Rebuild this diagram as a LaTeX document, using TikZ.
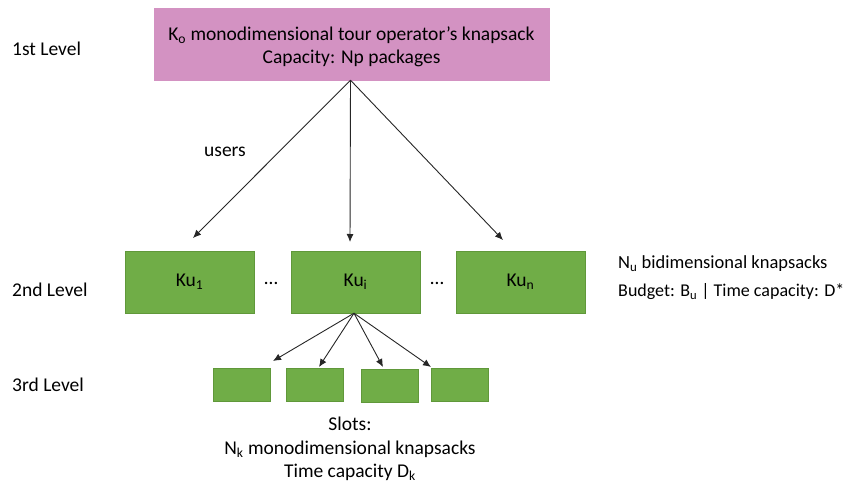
\documentclass[tikz,border=0pt]{standalone}
\usepackage{fontspec}
\setmainfont{Carlito}
\usetikzlibrary{positioning, arrows.meta}
\definecolor{opPink}{RGB}{211,146,194}
\definecolor{kuGreen}{RGB}{112,173,71}
\definecolor{kuLine}{RGB}{96,152,58}
\tikzset{
    txt/.style={inner sep=0pt, font=\fontsize{19.5}{23.5}\selectfont},
    sidetxt/.style={inner sep=0pt, anchor=west, font=\fontsize{18.5}{22}\selectfont},
    levellbl/.style={txt, anchor=base west},
    opbox/.style={draw=opPink, fill=opPink, minimum width=395pt, minimum height=72pt},
    kubox/.style={draw=kuLine, fill=kuGreen, minimum width=129pt, minimum height=62pt, txt},
    slotbox/.style={draw=kuLine, fill=kuGreen, minimum width=57pt, minimum height=33pt},
    arr/.style={-{Latex[length=8pt,width=7pt]}, line width=0.9pt, black!85}
}

\begin{document}
\begin{tikzpicture}[x=1pt, y=-1pt]
        %\draw[help lines] (0,0) grid[step=50] (848,489);
        \useasboundingbox (0,0) rectangle (848,489);

        \node[levellbl] (lvl1) at (12,56) {1st Level};
        \node[levellbl] (lvl2) at (12,296) {2nd Level};
        \node[levellbl] (lvl3) at (12,391) {3rd Level};

        \node[opbox] (ko) at (351.5,44) {};
        \node[txt, align=center] (kotxt) at ([yshift=-3pt]ko.center) {K\textsubscript{o} monodimensional tour operator’s knapsack\\Capacity: Np packages};

        \node[kubox] (ku1) at (189.5,282) {Ku\textsubscript{1}};
        \node[kubox] (kui) at (355.5,282) {Ku\textsubscript{i}};
        \node[kubox] (kun) at (520.5,282) {Ku\textsubscript{n}};
        \node[txt] (dots1) at (271,283) {…};
        \node[txt] (dots2) at (437,283) {…};

        \node[txt] (users) at (225,152) {users};

        % arrow ends above the 2nd level
        \coordinate (e1) at (193,238);
        \coordinate (ei) at (350,242);
        \coordinate (en) at (503,240);
        \coordinate (top) at ([xshift=-1pt]ko.south);
        \foreach \e in {e1,ei,en}
            \draw[arr] (top) -- (\e);

        \node[sidetxt] (nu) at (618,264) {N\textsubscript{u} bidimensional knapsacks};
        \node[sidetxt, font=\fontsize{18}{22}\selectfont] (budget) at (618,292) {Budget: B\textsubscript{u} | Time capacity: D*};

        % slots
        \node[slotbox] (s1) at (242,384.5) {};
        \node[slotbox] (s2) at (314.5,384.5) {};
        \node[slotbox] (s3) at (389.5,386) {};
        \node[slotbox] (s4) at (460,384.5) {};
        \coordinate (f1) at (273,361);
        \coordinate (f2) at (319,367);
        \coordinate (f3) at (383,367);
        \coordinate (f4) at (431,367);
        \coordinate (mid) at ([xshift=-1.5pt]kui.south);
        \foreach \f in {f1,f2,f3,f4}
            \draw[arr] (mid) -- (\f);

        \node[txt, align=center] (slots) at (350,449) {Slots:\\N\textsubscript{k} monodimensional knapsacks\\Time capacity D\textsubscript{k}};
\end{tikzpicture}
\end{document}
